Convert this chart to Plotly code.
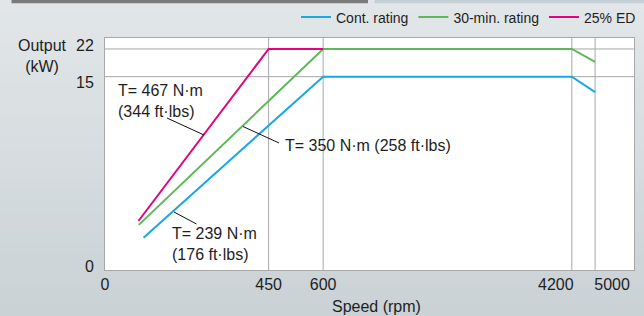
import numpy as np
import plotly.graph_objects as go

# ---------------- data ----------------
series_names = ["Cont. rating", "30-min. rating", "25% ED"]
speed_cont = [106, 600, 4200, 5000]
power_cont = [2.5, 15, 15, 13.8]
speed_30min = [93, 600, 4200, 5000]
power_30min = [3.5, 22, 22, 18.75]
speed_ed = [92, 450, 600]
power_ed = [3.8, 22, 22]

x_tick_values = [0, 450, 600, 4200, 5000]
x_tick_labels = ["0", "450", "600", "4200", "5000"]
y_tick_values = [0, 15, 22]
y_tick_labels = ["0", "15", "22"]

torque_labels = ["T= 467 N·m<br>(344 ft·lbs)",
                 "T= 350 N·m (258 ft·lbs)",
                 "T= 239 N·m<br>(176 ft·lbs)"]

# ---------------- broken (schematic) axes ----------------
X_BREAK_IN = [0, 450, 600, 4200, 5000]
X_BREAK_OUT = [0, 450, 600, 1284, 1348]
X_MAX = 1455
Y_BREAK_IN = [0, 15, 22]
Y_BREAK_OUT = [0, 15, 17.15]
Y_MAX = 18.0


def fx(v):
    return np.interp(v, X_BREAK_IN, X_BREAK_OUT)


def fy(v):
    return np.interp(v, Y_BREAK_IN, Y_BREAK_OUT)


# ---------------- layout geometry (px) ----------------
W, H = 644, 316
L, R, T, B = 105, 10, 38, 46
PW, PH = W - L - R, H - T - B
X_UNIT_PX = PW / X_MAX
Y_UNIT_PX = PH / Y_MAX

# label offsets (px) from their gridlines, as in the original artwork
X_LABEL_SHIFT_PX = [0, 0, 0, -16, 17]
Y_LABEL_SHIFT_PX = [4, -6, 3.5]   # + = up


def px(xp):
    return (xp - L) / PW


def py(yp):
    return (H - B - yp) / PH


COLORS = ["#1aa7e4", "#5cb85a", "#e2037d"]
FONT = "Liberation Sans, Arial, Helvetica, sans-serif"
TEXT = "#1e1e1e"
GRID = "#a8a8a8"

fig = go.Figure()
for name, sx, sy, c in [
    (series_names[0], speed_cont, power_cont, COLORS[0]),
    (series_names[1], speed_30min, power_30min, COLORS[1]),
    (series_names[2], speed_ed, power_ed, COLORS[2]),
]:
    fig.add_trace(go.Scatter(x=fx(sx), y=fy(sy), mode="lines", name=name,
                             line=dict(color=c, width=2), hoverinfo="skip"))

x_grid = fx(x_tick_values)
y_grid = fy(y_tick_values)
x_label_pos = x_grid + np.array(X_LABEL_SHIFT_PX) / X_UNIT_PX
y_label_pos = y_grid + np.array(Y_LABEL_SHIFT_PX) / Y_UNIT_PX

shapes = []
# background gradient
top_c = np.array([0xe3, 0xe7, 0xe9])
bot_c = np.array([0xca, 0xd2, 0xd6])
N = 30
for i in range(N):
    y0p = H * i / N
    y1p = H * (i + 1) / N + 1
    c = top_c + (bot_c - top_c) * (i + 0.5) / N
    shapes.append(dict(type="rect", xref="paper", yref="paper", layer="below",
                       x0=px(0), x1=px(W), y0=py(y1p), y1=py(y0p),
                       fillcolor="rgb(%d,%d,%d)" % tuple(c.astype(int)), line_width=0))
# white plot area
shapes.append(dict(type="rect", xref="paper", yref="paper", layer="below",
                   x0=0, x1=1, y0=0, y1=1, fillcolor="white", line_width=0))
# header bars
shapes.append(dict(type="rect", xref="paper", yref="paper", layer="below",
                   x0=px(11.5), x1=px(368), y0=py(3.3), y1=py(0),
                   fillcolor="#7b7b7b", line_width=0))
shapes.append(dict(type="rect", xref="paper", yref="paper", layer="below",
                   x0=px(374.5), x1=px(W), y0=py(3.3), y1=py(0),
                   fillcolor="#c4cfd5", line_width=0))
# gridlines at the marked speeds / outputs
for xv in x_grid[1:]:
    shapes.append(dict(type="line", xref="x", yref="paper", layer="below",
                       x0=xv, x1=xv, y0=0, y1=1, line=dict(color=GRID, width=1)))
for yv in y_grid[1:]:
    shapes.append(dict(type="line", xref="paper", yref="y", layer="below",
                       x0=0, x1=1, y0=yv, y1=yv, line=dict(color=GRID, width=1)))
# leader lines
leaders = [((167, 118), (204, 135)),
           ((243, 126.5), (279, 143)),
           ((174, 212), (196.5, 224))]
for (a, b) in leaders:
    shapes.append(dict(type="line", xref="paper", yref="paper", layer="above",
                       x0=px(a[0]), y0=py(a[1]), x1=px(b[0]), y1=py(b[1]),
                       line=dict(color="#111111", width=1)))

annotations = []
ann_pos = [(116, 101), (283, 145), (170, 244)]
for txt, (ax_, ay_) in zip(torque_labels, ann_pos):
    annotations.append(dict(text=txt, xref="paper", yref="paper", x=px(ax_), y=py(ay_),
                            xanchor="left", yanchor="middle", align="left", showarrow=False,
                            font=dict(family=FONT, size=16, color=TEXT)))
annotations.append(dict(text="Output<br>(kW)", xref="paper", yref="paper",
                        x=px(42.5), y=py(55.5), xanchor="center", yanchor="middle",
                        showarrow=False, font=dict(family=FONT, size=16, color=TEXT)))
annotations.append(dict(text="Speed (rpm)", xref="paper", yref="paper",
                        x=px(376), y=py(306), xanchor="center", yanchor="middle",
                        showarrow=False, font=dict(family=FONT, size=16, color=TEXT)))

fig.update_layout(
    width=W, height=H,
    margin=dict(l=L, r=R, t=T, b=B, pad=0, autoexpand=False),
    paper_bgcolor="#d6dcdf",
    plot_bgcolor="white",
    font=dict(family=FONT, size=16, color=TEXT),
    showlegend=True,
    legend=dict(orientation="h", x=px(641), xanchor="right", y=py(17.5), yanchor="middle",
                bgcolor="rgba(0,0,0,0)", font=dict(family=FONT, size=14, color=TEXT),
                itemwidth=30, tracegroupgap=0),
    shapes=shapes,
    annotations=annotations,
    xaxis=dict(range=[0, X_MAX], tickmode="array", tickvals=x_label_pos, ticktext=x_tick_labels,
               tickangle=0, automargin=False,
               showgrid=False, zeroline=False,
               showline=True, linecolor=GRID, linewidth=1, mirror=True,
               ticks="", fixedrange=True),
    yaxis=dict(range=[0, Y_MAX], tickmode="array", tickvals=y_label_pos, ticktext=y_tick_labels,
               automargin=False,
               showgrid=False, zeroline=False,
               showline=True, linecolor=GRID, linewidth=1, mirror=True,
               ticks="", ticklabelstandoff=7, fixedrange=True),
)

fig.write_html("out.html", config={"displayModeBar": False, "staticPlot": True},
               post_script="document.body.style.margin='0';document.body.style.overflow='hidden';")
